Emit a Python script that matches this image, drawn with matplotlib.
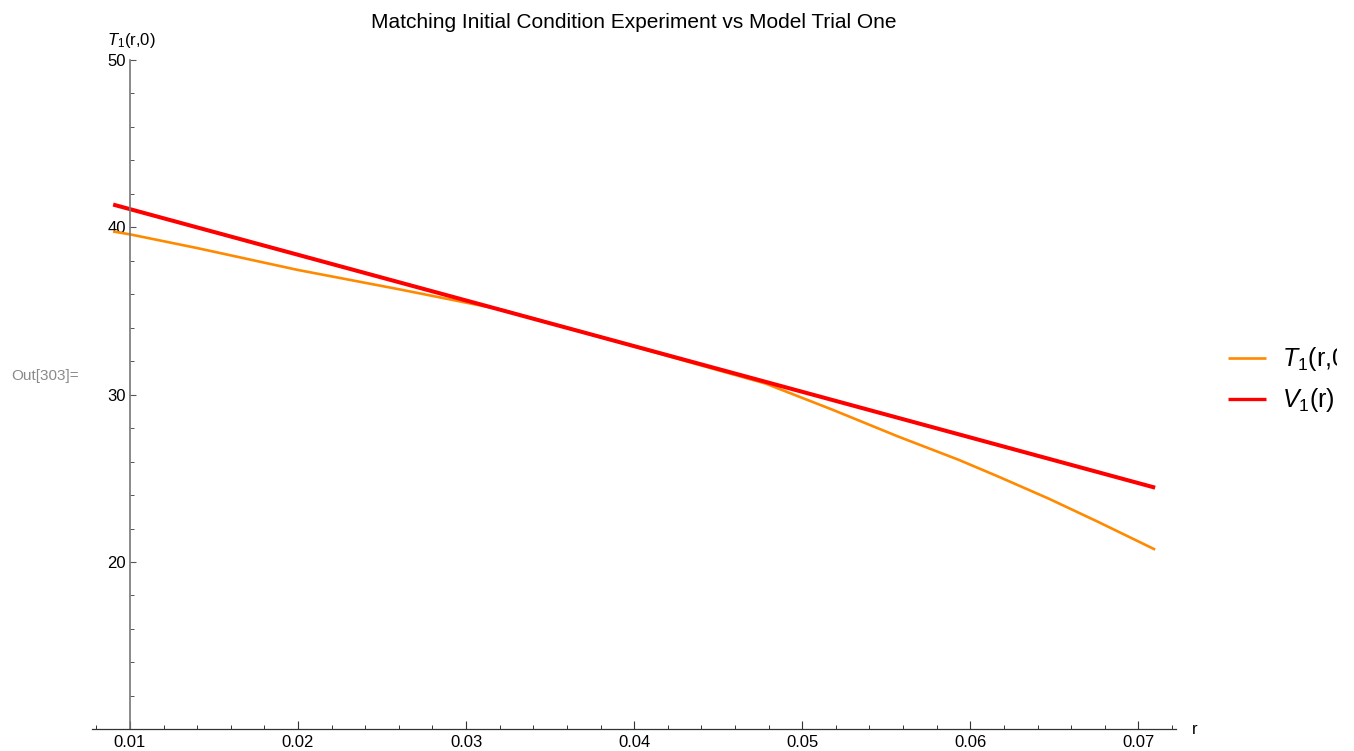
import matplotlib
matplotlib.use("Agg")
import matplotlib.pyplot as plt
from matplotlib.lines import Line2D
from matplotlib.transforms import Bbox, TransformedBbox

plt.rcParams["font.family"] = ["Liberation Sans", "DejaVu Sans"]
plt.rcParams["mathtext.fontset"] = "custom"
plt.rcParams["mathtext.rm"] = "Liberation Sans"
plt.rcParams["mathtext.it"] = "Liberation Sans:italic"

# experiment: initial temperature profile T1(r,0)
r_exp = [0.009, 0.010, 0.014, 0.020, 0.026, 0.032, 0.038, 0.0438, 0.0478,
         0.0518, 0.0557, 0.0593, 0.0617, 0.0647, 0.0676, 0.071]
t_exp = [39.75, 39.58, 38.76, 37.45, 36.30, 35.10, 33.45, 31.80, 30.67,
         29.10, 27.50, 26.11, 25.09, 23.77, 22.40, 20.74]

# model: V1(r)
r_mod = [0.009, 0.040, 0.071]
v_mod = [41.36, 32.90, 24.44]

x_major = [0.01, 0.02, 0.03, 0.04, 0.05, 0.06, 0.07]
x_labels = ["0.01", "0.02", "0.03", "0.04", "0.05", "0.06", "0.07"]
x_minor = [0.008, 0.012, 0.014, 0.016, 0.018, 0.022, 0.024, 0.026, 0.028,
           0.032, 0.034, 0.036, 0.038, 0.042, 0.044, 0.046, 0.048,
           0.052, 0.054, 0.056, 0.058, 0.062, 0.064, 0.066, 0.068, 0.072]
y_major = [20, 30, 40, 50]
y_minor = [12, 14, 16, 18, 22, 24, 26, 28, 32, 34, 36, 38, 42, 44, 46, 48]

series_labels = [r"$T_1$(r,0)", r"$V_1$(r)"]
series_colors = ["#ff8a00", "#ff0000"]

W, H = 1354, 751
fig = plt.figure(figsize=(W / 100, H / 100), dpi=100)
ax = fig.add_axes([92.3 / W, (H - 729.3) / H, 1083.7 / W, 669.3 / H])

ax.plot(r_exp, t_exp, color=series_colors[0], lw=1.9, solid_capstyle="butt")
ax.plot(r_mod, v_mod, color=series_colors[1], lw=2.9, solid_capstyle="butt")

lo, hi = min(r_exp), max(r_exp)
pad = 0.02 * (hi - lo)
ax.set_xlim(lo - pad, hi + pad)
ax.set_ylim(10, 50)

for s in ("top", "right"):
    ax.spines[s].set_visible(False)
ax.spines["left"].set_position(("data", 0.01))
ax.spines["left"].set_color("#777777")
ax.spines["left"].set_linewidth(1.2)
ax.spines["bottom"].set_color("#333333")
ax.spines["bottom"].set_linewidth(0.9)

ax.set_xticks(x_major)
ax.set_xticklabels(x_labels)
ax.set_xticks(x_minor, minor=True)
ax.set_yticks(y_major)
ax.set_yticks(y_minor, minor=True)

ax.tick_params(axis="x", which="major", direction="in", length=5.5, width=0.8,
               pad=4, labelsize=12, color="#333333")
ax.tick_params(axis="x", which="minor", direction="in", length=3.2, width=0.7,
               color="#333333")
ax.tick_params(axis="y", which="major", direction="in", length=4.5, width=0.8,
               pad=3, labelsize=12, color="#555555")
ax.tick_params(axis="y", which="minor", direction="in", length=3.0, width=0.7,
               color="#555555")

def fx(px):
    return px / W

def fy(py):
    return 1 - py / H

fig.text(fx(634), fy(22), "Matching Initial Condition Experiment vs Model Trial One",
         ha="center", va="center", fontsize=15)
fig.text(fx(131), fy(40), r"$T_1$(r,0)", ha="center", va="center", fontsize=12)
fig.text(fx(1192), fy(730), "r", ha="left", va="center", fontsize=12)
fig.text(fx(11), fy(376), "Out[303]=", ha="left", va="center", fontsize=11,
         color="#8a8a8a")

# legend drawn by hand at the right edge; its cell cuts the text off
leg_clip = TransformedBbox(Bbox([[0, 0], [fx(1337), 1]]), fig.transFigure)
leg_y = [358, 399]
leg_lw = [1.9, 2.4]
for label, color, lw, py in zip(series_labels, series_colors, leg_lw, leg_y):
    fig.add_artist(Line2D([fx(1228), fx(1266)], [fy(py), fy(py)],
                          transform=fig.transFigure, color=color, lw=lw,
                          solid_capstyle="butt"))
    t = fig.text(fx(1282), fy(py + 1), label, ha="left", va="center", fontsize=18)
    t.set_clip_box(leg_clip)
    t.set_clip_on(True)

fig.savefig("out.png", dpi=100)
